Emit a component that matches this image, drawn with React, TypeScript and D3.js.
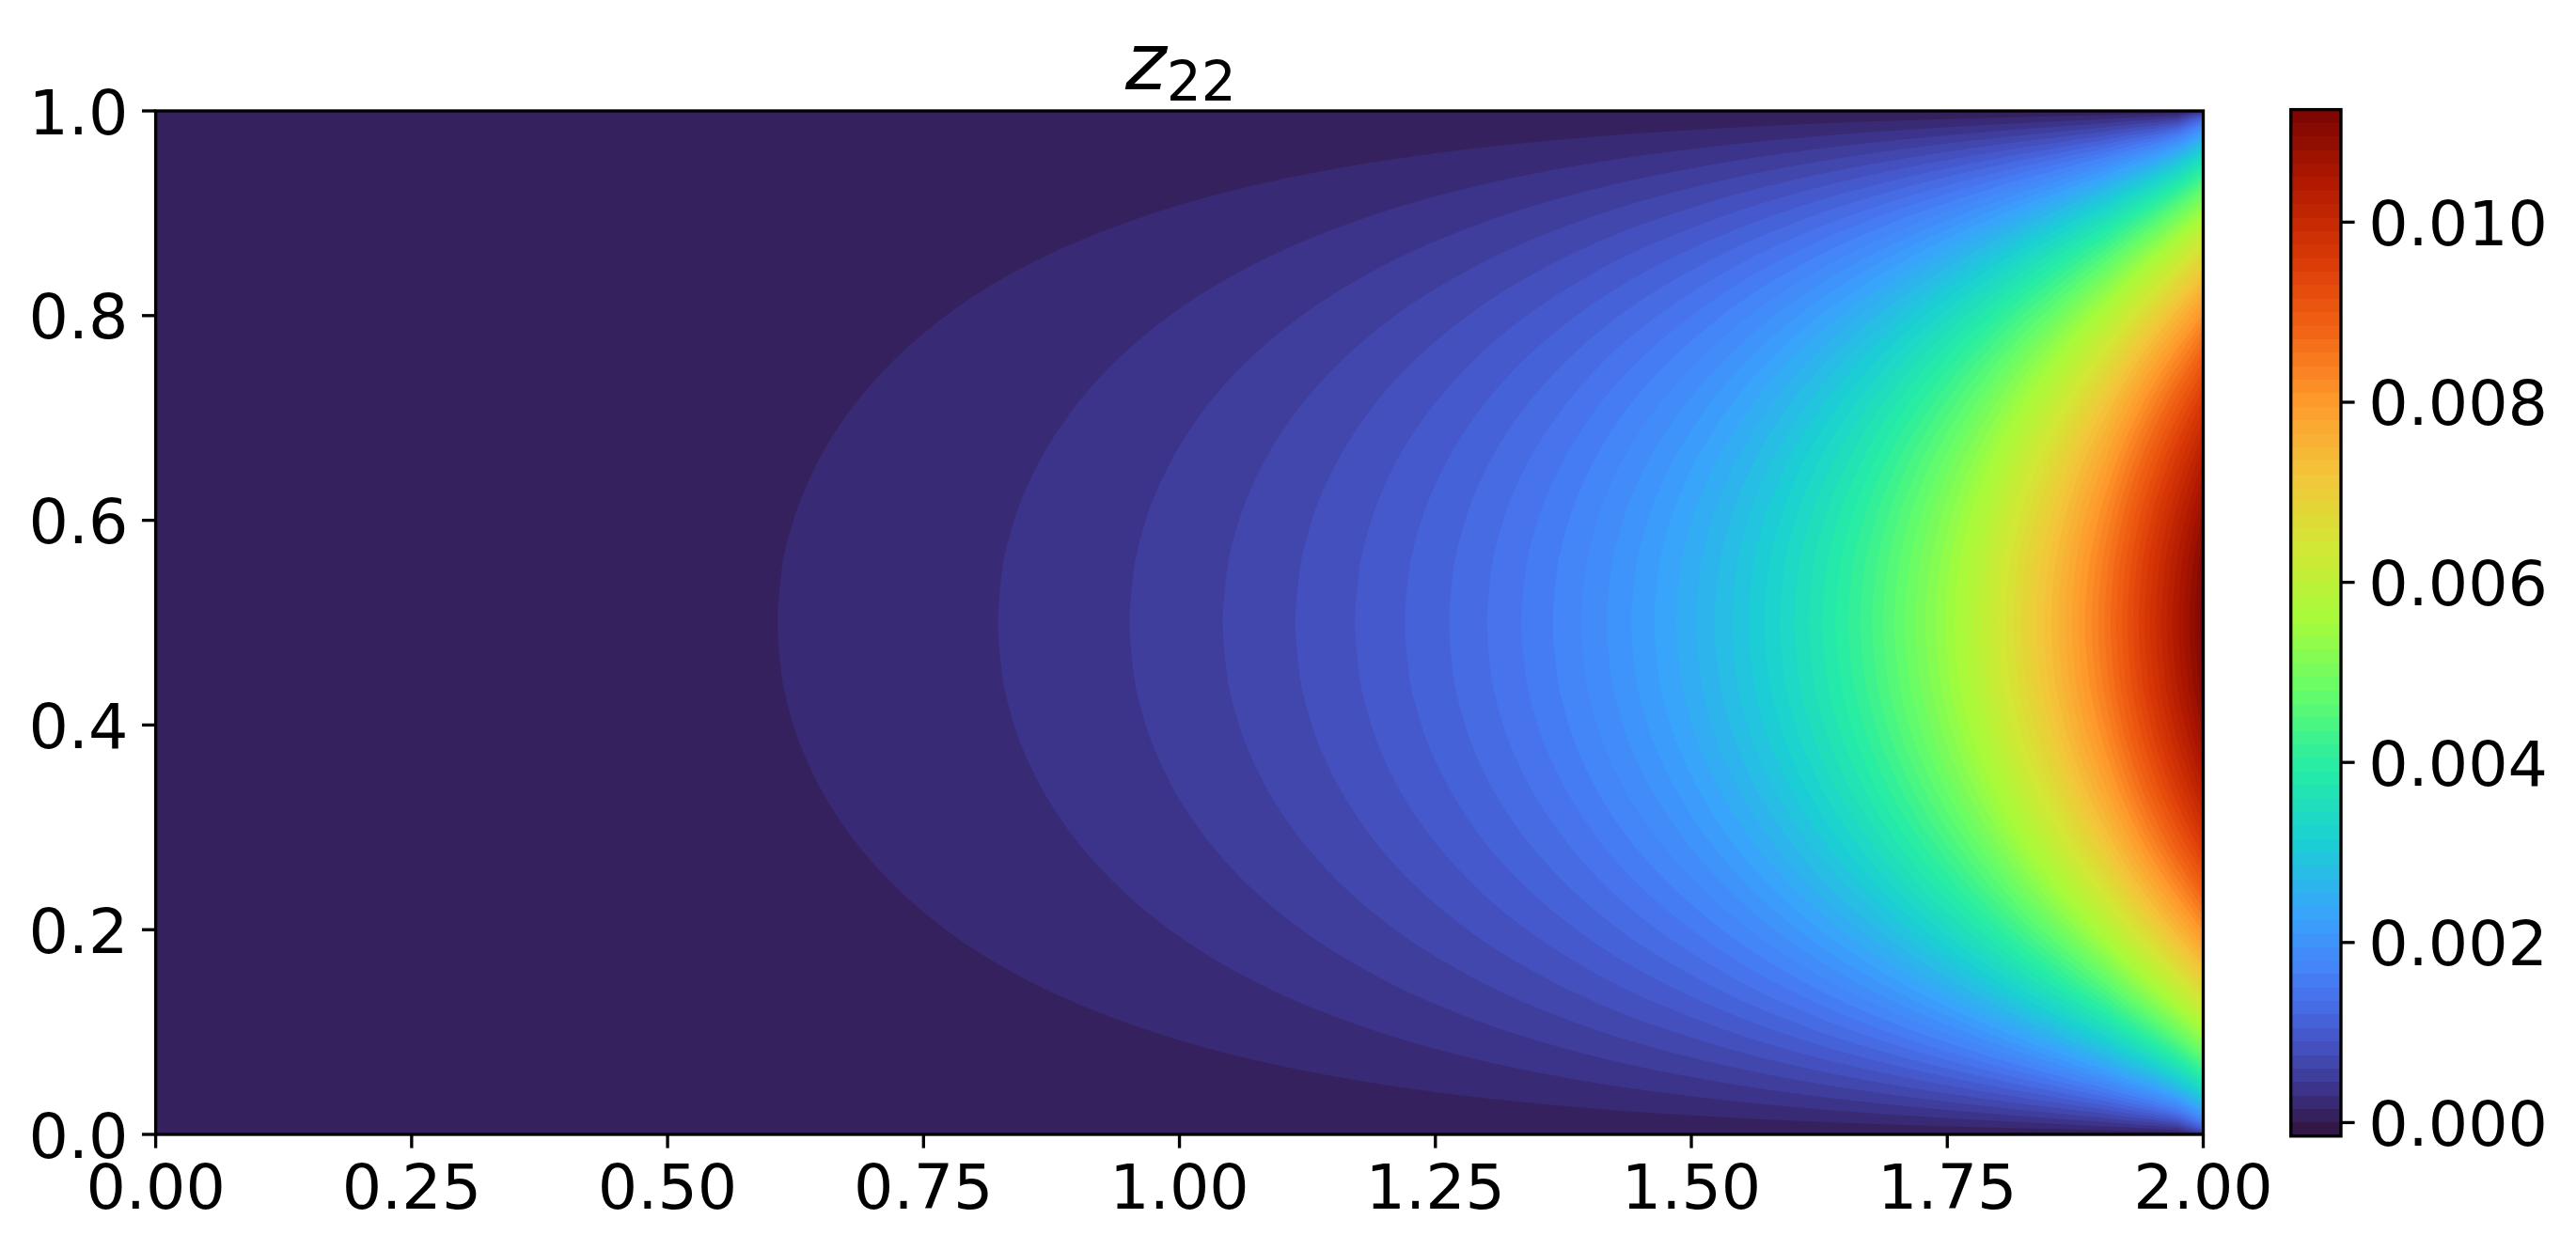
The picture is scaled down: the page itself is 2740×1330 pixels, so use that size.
import React, { useMemo } from "react";
import * as d3 from "d3";

// ---------- Values ----------
const levelStep = 0.00015;
const levelCount = 77; // -0.00015 ... 0.01125, 76 colour bands
const xTickValues = [0, 0.25, 0.5, 0.75, 1, 1.25, 1.5, 1.75, 2];
const yTickValues = [0, 0.2, 0.4, 0.6, 0.8, 1];
const colorbarTickValues = [0, 0.002, 0.004, 0.006, 0.008, 0.01];

// Where each contour level (0.00015, 0.0003, ...) crosses the line y = 0.5
const centerCrossingsX = [
  0.6074, 0.8227, 0.9513, 1.0423, 1.1133, 1.1715, 1.2202, 1.2634, 1.3004, 1.3341,
  1.3647, 1.3923, 1.4174, 1.4413, 1.4637, 1.4848, 1.5044, 1.5225, 1.5397, 1.5559,
  1.5712, 1.5865, 1.6006, 1.6147, 1.6278, 1.6407, 1.6533, 1.6652, 1.6765, 1.6875,
  1.6982, 1.7084, 1.7188, 1.7286, 1.7384, 1.7478, 1.757, 1.7659, 1.7748, 1.7833,
  1.7916, 1.7993, 1.8069, 1.8149, 1.8222, 1.8293, 1.8369, 1.8443, 1.8513, 1.8583,
  1.8651, 1.8718, 1.8779, 1.8844, 1.8911, 1.8972, 1.9036, 1.9095, 1.915, 1.9205,
  1.926, 1.9315, 1.937, 1.9425, 1.948, 1.9535, 1.959, 1.9645, 1.97, 1.9756,
  1.9811, 1.9866, 1.9918, 1.997,
];
const leftEdgeValue = 0.00002;
const rightEdgeValue = 0.0112;

// Across-channel profile: value / value at y = 0.5, at each distance from a wall
const wallDistances = [0, 0.0025, 0.005, 0.01, 0.015, 0.02, 0.03, 0.04, 0.05, 0.065, 0.08, 0.1, 0.125, 0.15, 0.2, 0.25, 0.3, 0.35, 0.4, 0.45, 0.5];
const profileStationsX = [1.2, 1.4, 1.5, 1.6, 1.7, 1.75, 1.8, 1.85, 1.9, 1.95, 1.975, 2];
const profileRows = [
  [0, .0079, .0158, .0315, .0472, .063, .0944, .1257, .1569, .2034, .2494, .3098, .3836, .455, .5889, .7081, .8098, .8915, .9513, .9878, 1],
  [0, .0079, .0159, .0317, .0476, .0634, .0951, .1266, .158, .2048, .2511, .3119, .3861, .4577, .5917, .7107, .8118, .8929, .952, .9879, 1],
  [0, .008, .016, .032, .048, .064, .0959, .1278, .1594, .2066, .2533, .3145, .389, .461, .5952, .7138, .8143, .8944, .9527, .9881, 1],
  [0, .0081, .0163, .0326, .0489, .0651, .0976, .13, .1622, .2101, .2574, .3194, .3947, .4672, .6016, .7195, .8186, .8972, .9541, .9885, 1],
  [0, .0084, .0169, .0337, .0506, .0674, .101, .1344, .1676, .217, .2656, .3291, .4058, .479, .6135, .7298, .8263, .902, .9564, .9891, 1],
  [0, .0087, .0174, .0347, .052, .0694, .1039, .1382, .1723, .2228, .2725, .3371, .4148, .4886, .6227, .7375, .8319, .9054, .958, .9895, 1],
  [0, .0091, .0181, .0362, .0543, .0723, .1083, .1439, .1793, .2316, .2827, .3489, .4277, .5019, .6352, .7475, .8389, .9096, .9599, .99, 1],
  [0, .0097, .0193, .0386, .0578, .0771, .1152, .153, .1903, .2451, .2983, .3663, .4464, .5206, .6516, .7602, .8476, .9147, .9622, .9906, 1],
  [0, .0107, .0215, .0429, .0643, .0855, .1276, .1689, .2092, .2676, .3233, .3931, .4734, .5464, .6727, .7756, .8577, .9205, .9648, .9912, 1],
  [0, .0133, .0266, .053, .0791, .1048, .1545, .2017, .2463, .3084, .3654, .4345, .5118, .5808, .6983, .7933, .8689, .9267, .9676, .9919, 1],
  [0, .0169, .0337, .0666, .0983, .1285, .1842, .2342, .2796, .3411, .3962, .4623, .5357, .601, .7124, .8027, .8748, .9299, .969, .9923, 1],
  [0, .0546, .0827, .1253, .1599, .19, .2422, .2876, .3285, .3839, .4338, .4943, .5619, .6226, .727, .8123, .8807, .9331, .9703, .9926, 1],
];

// Turbo colour map
const turboStops = [0, 5 / 255, 10 / 255, 15 / 255, 20 / 255, 25 / 255, 30 / 255, 35 / 255, 40 / 255, 3 / 14, 4 / 14, 5 / 14, 6 / 14, 7 / 14, 8 / 14, 9 / 14, 10 / 14, 11 / 14, 12 / 14, 13 / 14, 1];
const turboColors = ["#30123b", "rgb(54,33,95)", "rgb(59,47,128)", "rgb(63,62,156)", "rgb(66,75,181)", "rgb(69,89,203)", "rgb(70,102,221)", "rgb(71,115,235)", "rgb(70,128,246)", "#39a2fc", "#1bcfd4", "#24eca6", "#61fc6c", "#a4fc3b", "#d1e834", "#f3c63a", "#fe9b2d", "#f36315", "#d93806", "#b11901", "#7a0402"];

// ---------- Layout ----------
const W = 2740, H = 1330;
const plot = { left: 165.6, right: 2343.5, top: 118, bottom: 1207 };
const bar = { left: 2436.7, right: 2490, top: 116.6, bottom: 1208.8 };
const FONT = "'DejaVu Sans', sans-serif";
const FS = 66.67, TICK = 14.6, SW = 3.33;
const gridN = 1089, gridM = 545;

const turbo = d3.scaleLinear<string>().domain(turboStops).range(turboColors).interpolate(d3.interpolateRgb);
const levels = d3.range(levelCount).map((i) => -levelStep + i * levelStep);
const bandColor = (i: number) => turbo((i + 0.5) / (levelCount - 1));

function hermiteTable(xsIn: number[], ysIn: number[]) {
  const n = xsIn.length;
  const m = ysIn.map((_, i) => {
    if (i === 0) return (ysIn[1] - ysIn[0]) / (xsIn[1] - xsIn[0]);
    if (i === n - 1) return 0;
    const h0 = xsIn[i] - xsIn[i - 1], h1 = xsIn[i + 1] - xsIn[i];
    const s0 = (ysIn[i] - ysIn[i - 1]) / h0, s1 = (ysIn[i + 1] - ysIn[i]) / h1;
    return (2 * s0 * s1) / (s0 + s1 || 1); // harmonic mean keeps it monotone
  });
  return (v: number) => {
    const k = Math.min(n - 2, Math.max(0, d3.bisectRight(xsIn, v) - 1));
    const h = xsIn[k + 1] - xsIn[k], t = (v - xsIn[k]) / h;
    const t2 = t * t, t3 = t2 * t;
    return (2 * t3 - 3 * t2 + 1) * ysIn[k] + (t3 - 2 * t2 + t) * h * m[k] + (-2 * t3 + 3 * t2) * ysIn[k + 1] + (t3 - t2) * h * m[k + 1];
  };
}

function buildField() {
  const cx = [0, ...centerCrossingsX, 2];
  const cz = [leftEdgeValue, ...centerCrossingsX.map((_, i) => (i + 1) * levelStep), rightEdgeValue];
  const logCenter = d3.scaleLinear().domain(cx).range(cz.map(Math.log)).clamp(true);
  const rowFns = profileRows.map((r) => hermiteTable(wallDistances, r));
  const stationPos = d3.scaleLinear().domain(profileStationsX).range(profileStationsX.map((_, i) => i)).clamp(true);
  const center = new Float64Array(gridN), sp = new Float64Array(gridN);
  for (let i = 0; i < gridN; i++) {
    const x = ((i + 0.5) / gridN) * 2;
    center[i] = Math.exp(logCenter(x));
    sp[i] = stationPos(x);
  }
  const out = new Float64Array(gridN * gridM);
  const last = profileRows.length - 1;
  for (let j = 0; j < gridM; j++) {
    const y = (j + 0.5) / gridM;
    const d = Math.min(y, 1 - y);
    const col = rowFns.map((f) => f(d));
    for (let i = 0; i < gridN; i++) {
      const k = Math.min(last - 1, Math.floor(sp[i]));
      const t = sp[i] - k;
      out[j * gridN + i] = center[i] * (col[k] * (1 - t) + col[k + 1] * t);
    }
  }
  return out;
}

export default function App() {
  const xs = d3.scaleLinear().domain([0, 2]).range([plot.left, plot.right]);
  const ys = d3.scaleLinear().domain([0, 1]).range([plot.bottom, plot.top]);
  const cs = d3.scaleLinear().domain([levels[0], levels[levels.length - 1]]).range([bar.bottom, bar.top]);

  const paths = useMemo(() => {
    const field = buildField();
    const thresholds = levels.slice(2, levels.length - 1);
    const gen = d3.contours().size([gridN, gridM]).smooth(true).thresholds(thresholds);
    const projection = d3.geoTransform({
      point(px: number, py: number) {
        (this as any).stream.point(xs((px / gridN) * 2), ys(py / gridM));
      },
    });
    const path = d3.geoPath(projection);
    return gen(field as any).map((c: any, i: number) => ({ d: path(c) || "", fill: bandColor(i + 2) }));
  }, []);

  const tickText = { fontFamily: FONT, fontSize: FS, fill: "#000" } as const;

  return (
    <svg width={W} height={H} viewBox={`0 0 ${W} ${H}`} style={{ position: "absolute", left: 0, top: 0, background: "#fff" }}>
      {/* title */}
      <text x={1197} y={95} fontFamily={FONT} fontSize={83.33} fill="#000">
        <tspan fontStyle="italic">z</tspan>
        <tspan fontSize={58.33} dy={12}>22</tspan>
      </text>

      {/* filled contours */}
      <rect x={plot.left} y={plot.top} width={plot.right - plot.left} height={plot.bottom - plot.top} fill={bandColor(1)} />
      {paths.map((p, i) => (
        <path key={i} d={p.d} fill={p.fill} />
      ))}

      {/* main axes */}
      <rect x={plot.left} y={plot.top} width={plot.right - plot.left} height={plot.bottom - plot.top} fill="none" stroke="#000" strokeWidth={SW} />
      {xTickValues.map((v) => (
        <g key={v}>
          <line x1={xs(v)} x2={xs(v)} y1={plot.bottom} y2={plot.bottom + TICK} stroke="#000" strokeWidth={SW} />
          <text x={xs(v)} y={1286} textAnchor="middle" {...tickText}>{d3.format(".2f")(v)}</text>
        </g>
      ))}
      {yTickValues.map((v) => (
        <g key={v}>
          <line x1={plot.left - TICK} x2={plot.left} y1={ys(v)} y2={ys(v)} stroke="#000" strokeWidth={SW} />
          <text x={plot.left - TICK - 14.6} y={ys(v) + 24.5} textAnchor="end" {...tickText}>{d3.format(".1f")(v)}</text>
        </g>
      ))}

      {/* colour bar */}
      {levels.slice(0, levels.length - 1).map((l, i) => (
        <rect key={i} x={bar.left} width={bar.right - bar.left} y={cs(levels[i + 1])} height={cs(l) - cs(levels[i + 1])} fill={bandColor(i)} shapeRendering="crispEdges" />
      ))}
      <rect x={bar.left} y={bar.top} width={bar.right - bar.left} height={bar.bottom - bar.top} fill="none" stroke="#000" strokeWidth={SW} />
      {colorbarTickValues.map((v) => (
        <g key={v}>
          <line x1={bar.right} x2={bar.right + TICK} y1={cs(v)} y2={cs(v)} stroke="#000" strokeWidth={SW} />
          <text x={bar.right + TICK + 14.6} y={cs(v) + 24.5} {...tickText}>{d3.format(".3f")(v)}</text>
        </g>
      ))}
    </svg>
  );
}
